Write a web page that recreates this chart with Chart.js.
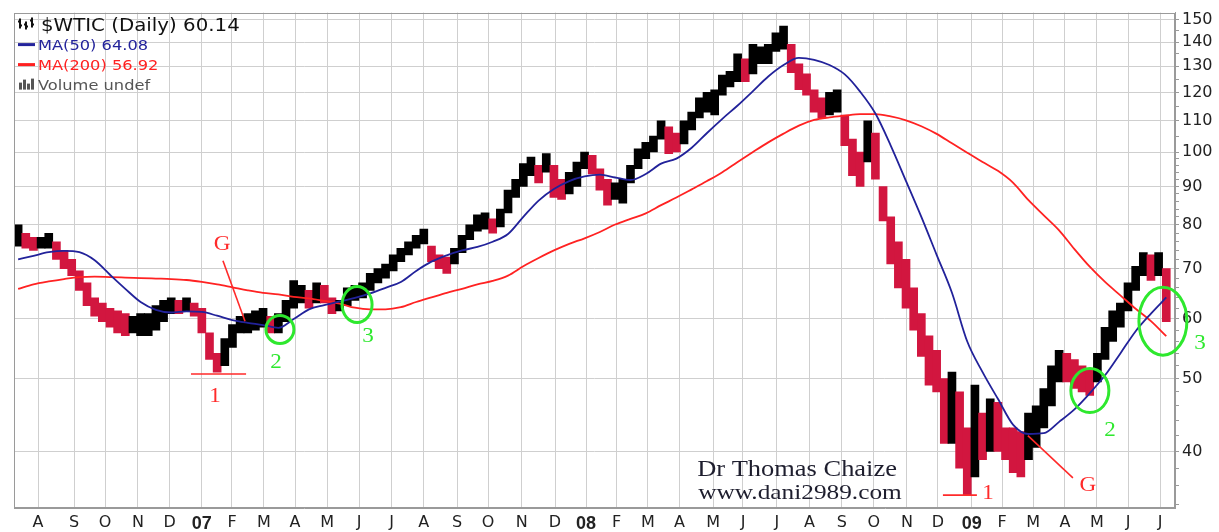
<!DOCTYPE html>
<html>
<head>
<meta charset="utf-8">
<script src="https://cdn.jsdelivr.net/npm/chart.js"></script>
<style>
  html, body { margin: 0; padding: 0; background: #fff; }
</style>
</head>
<body>
<canvas id="chart" width="1219" height="532"></canvas>
<script>
// x unit = trading days counted from 1 Aug 2006
const firstWeekDay = -13;
const weekStep = 5;

// weekly high / low of $WTIC
const weekHigh = [
  80, 78, 77, 77, 78, 76, 74, 72, 69.5, 67,
  64, 63, 62, 61.5, 61, 60.5, 61, 61, 62.5, 63.5,
  64, 63.5, 64, 63, 62, 57.5, 54, 56.5, 59, 60.5,
  61, 61.5, 62, 60.5, 61, 63.5, 67.5, 66.5, 65.5, 67,
  66.5, 64, 63.5, 66, 66.5, 67, 69, 70, 71, 73,
  74.5, 76, 77.5, 79, 75, 73, 72.5, 74.5, 77.5, 80,
  82.5, 83, 81.5, 84, 89, 92, 96.5, 98.5, 96, 99.5,
  96, 92, 94, 97, 100, 99, 95, 92, 91, 92,
  96, 101, 103, 105, 110, 108, 106, 110, 113, 118,
  120, 121, 126.5, 128, 135, 133, 139, 138, 139, 144,
  147, 139, 131, 127, 121, 118, 120, 121, 112, 104,
  100, 110, 106, 90, 82, 76, 72, 66, 61, 57,
  54.5, 50, 51, 48, 43, 49, 45, 47, 46.5, 43,
  43, 42.5, 45, 46, 48.5, 52, 54.5, 54, 53, 52,
  51.5, 54, 58.5, 61.5, 63, 67, 70.5, 73.5, 73, 73.5,
  70
];
const weekLow = [
  75, 74.5, 74, 74.5, 74.5, 72, 70, 68.5, 65.5, 62.5,
  60.5, 59.5, 58.5, 57.5, 57, 57.5, 57, 57, 58, 59.5,
  61, 61, 61.5, 60.5, 57.5, 53, 51, 52, 55, 57.5,
  57.5, 58, 58.5, 57.5, 57.5, 59.5, 62, 63, 62, 63,
  63, 61, 61.5, 62.5, 63.5, 64, 65.5, 67, 68, 69.5,
  71.5, 73, 74.5, 75.5, 71.5, 70, 69, 71, 73.5, 76.5,
  78.5, 79, 78, 79.5, 83, 87, 90, 93, 91, 94,
  87, 86.5, 88, 90, 95, 93.5, 89, 85, 86.5, 85.5,
  91, 95, 98, 100, 104, 99.5, 100, 102.5, 107, 111,
  113, 112, 119, 122, 124, 124, 127, 131, 131, 136,
  137, 127.5, 121, 119, 113, 111, 112, 113, 102, 93,
  90, 97, 92, 81, 71, 66, 62, 58, 53.5, 49,
  48, 41, 41, 38, 35, 37, 39, 40, 40, 39,
  37.5, 37, 39, 40.5, 43, 46, 49.5, 49.5, 48.5, 48,
  47.5, 49.5, 53, 56, 58.5, 61.5, 65.5, 68.5, 67.5, 68.5,
  59.5
];
const lastClose = 60.14;

// moving averages, one reading every two weeks
const maStep = 10;
const ma50 = [
  72.0, 72.8, 73.6, 73.9, 73.6, 71.8, 68.7, 65.8, 63.2, 61.7,
  61.2, 61.4, 61.3, 60.6, 59.8, 59.3, 58.9, 58.4, 60.0, 61.8,
  62.6, 63.3, 64.0, 64.9, 66.0, 67.2, 69.5, 71.5, 72.9, 74.0,
  74.8, 76.0, 77.8, 82.0, 86.2, 89.3, 91.5, 92.8, 93.3, 92.5,
  91.8, 93.5, 96.5, 98.0, 101.3, 106.0, 110.7, 115.3, 120.5, 126.0,
  130.5, 133.4, 132.6, 130.5, 126.8, 120.3, 112.5, 102.0, 91.5, 82.0,
  73.0, 65.0, 56.0, 51.0, 47.0, 43.4, 42.2, 42.3, 43.8, 45.5,
  47.8, 50.5, 54.0, 57.8, 61.0, 64.08
];
const ma200 = [
  65.8, 66.7, 67.3, 67.8, 68.2, 68.3, 68.2, 68.1, 68.0, 67.9,
  67.8, 67.6, 67.2, 66.7, 66.1, 65.5, 65.0, 64.7, 64.2, 63.9,
  63.4, 62.9, 62.1, 61.8, 61.8, 62.2, 63.2, 64.1, 65.0, 65.8,
  66.7, 67.4, 68.5, 70.5, 72.3, 74.0, 75.5, 76.8, 78.3, 80.1,
  81.5, 82.9, 85.0, 87.0, 89.2, 91.5, 94.0, 97.0, 100.0, 103.0,
  105.8, 108.4, 110.3, 111.2, 111.8, 112.3, 112.3, 111.5, 110.2, 108.2,
  105.7, 102.7, 99.8, 97.0, 94.4, 91.0, 86.3, 82.4, 78.7, 74.3,
  70.4, 67.2, 64.5, 61.9, 59.6, 56.92
];

// month starts on the time axis
const monthDays = [0, 23.5, 43.8, 65.3, 86, 107, 126.7, 147.6, 167.9, 188.8, 209.7, 231,
  252, 273.7, 294, 316, 337.7, 358, 378, 398.4, 419, 441, 460.5, 482.7,
  504, 525, 546, 567.6, 587.8, 610, 629.7, 650, 670.8, 691.7, 712, 733];
const monthLabels = ['A','S','O','N','D','07','F','M','A','M','J','J',
  'A','S','O','N','D','08','F','M','A','M','J','J',
  'A','S','O','N','D','09','F','M','A','M','J','J'];
const yearLabels = ['07', '08', '09'];

const majorPrices = [40, 50, 60, 70, 80, 90, 100, 110, 120, 130, 140, 150];
const minorPrices = [34, 36, 38, 42, 44, 46, 48, 52, 54, 56, 58, 62, 64, 66, 68, 72, 74, 76, 78,
  82, 84, 86, 88, 92, 94, 96, 98, 105, 115, 125, 135, 145];

// hand annotations, in (trading day, price)
const RED = '#ff2a2a', GREEN = '#2ee82e';
const notes = {
  lines: [
    [[120.8, 71.7], [135.2, 59.6]],
    [[99.9, 50.7], [135.9, 50.7]],
    [[646.6, 42.0], [676, 36.9]],
    [[591.1, 35.0], [613.3, 35.0]]
  ],
  circles: [
    { at: [158, 58.1], rx: 14, ry: 14 },
    { at: [208.4, 62.7], rx: 15, ry: 18 },
    { at: [687.1, 48.2], rx: 19, ry: 22 },
    { at: [734.8, 59.6], rx: 24, ry: 34 }
  ],
  labels: [
    { text: 'G', at: [120.2, 75.3], color: RED },
    { text: '1', at: [115.6, 47.4], color: RED },
    { text: '2', at: [155.5, 52.6], color: GREEN },
    { text: '3', at: [215.5, 56.9], color: GREEN },
    { text: 'G', at: [685.8, 36.0], color: RED },
    { text: '1', at: [620.5, 35.2], color: RED },
    { text: '2', at: [700.2, 42.6], color: GREEN },
    { text: '3', at: [759, 55.7], color: GREEN }
  ],
  credit: [
    { text: 'Dr Thomas Chaize', at: [495.8, 37.8], size: 23 },
    { text: 'www.dani2989.com', at: [497.7, 35.2], size: 22 }
  ]
};

const mids = weekHigh.map((h, i) => (h + weekLow[i]) / 2);
const barColors = mids.map((m, i) => (i > 0 && m < mids[i - 1]) ? '#d2163f' : '#000000');

const priceBars = weekHigh.map((h, i) => ({ x: firstWeekDay + i * weekStep, y: [weekLow[i], h] }));
const ma50Pts = ma50.map((v, k) => ({ x: firstWeekDay + k * maStep, y: v }));
const ma200Pts = ma200.map((v, k) => ({ x: firstWeekDay + k * maStep, y: v }));
const allPrices = majorPrices.concat(minorPrices).sort((a, b) => a - b);

function stretchText(ctx, text, x, y, sx) {
  ctx.save();
  ctx.translate(x, y);
  ctx.scale(sx, 1);
  ctx.fillText(text, 0, 0);
  ctx.restore();
}

const framePlugin = {
  id: 'frame',
  afterDraw(chart) {
    const { ctx, chartArea: a } = chart;
    ctx.save();
    ctx.strokeStyle = '#9a9a9a';
    ctx.lineWidth = 1;
    ctx.strokeRect(Math.round(a.left) + 0.5, Math.round(a.top) + 0.5,
      Math.round(a.right - a.left) - 1, Math.round(a.bottom - a.top) - 1);
    ctx.restore();
  }
};

const notesPlugin = {
  id: 'notes',
  afterDraw(chart) {
    const ctx = chart.ctx, xs = chart.scales.x, ys = chart.scales.y;
    const P = p => [xs.getPixelForValue(p[0]), ys.getPixelForValue(p[1])];
    ctx.save();
    ctx.strokeStyle = RED;
    ctx.lineWidth = 1.6;
    notes.lines.forEach(([p, q]) => {
      const a = P(p), b = P(q);
      ctx.beginPath();
      ctx.moveTo(a[0], a[1]);
      ctx.lineTo(b[0], b[1]);
      ctx.stroke();
    });
    ctx.strokeStyle = GREEN;
    ctx.lineWidth = 3;
    notes.circles.forEach(c => {
      const a = P(c.at);
      ctx.beginPath();
      ctx.ellipse(a[0], a[1], c.rx, c.ry, 0, 0, Math.PI * 2);
      ctx.stroke();
    });
    ctx.textAlign = 'center';
    ctx.textBaseline = 'middle';
    ctx.font = '21px "Liberation Serif", serif';
    notes.labels.forEach(l => {
      const a = P(l.at);
      ctx.fillStyle = l.color;
      stretchText(ctx, l.text, a[0], a[1], 1.1);
    });
    ctx.fillStyle = '#1e1e2e';
    notes.credit.forEach(c => {
      const a = P(c.at);
      ctx.font = c.size + 'px "Liberation Serif", serif';
      stretchText(ctx, c.text, a[0], a[1], 1.15);
    });
    ctx.restore();
  }
};

const legendPlugin = {
  id: 'stockLegend',
  afterDraw(chart) {
    const ctx = chart.ctx, a = chart.chartArea;
    const x0 = a.left + 4;
    ctx.save();
    ctx.textAlign = 'left';
    ctx.textBaseline = 'alphabetic';

    // price bar icon
    ctx.strokeStyle = '#111';
    ctx.lineWidth = 2;
    [[x0 + 2, 6, 16], [x0 + 8, 9, 17], [x0 + 14, 5, 15]].forEach(([x, t, b]) => {
      ctx.beginPath();
      ctx.moveTo(x, a.top + t); ctx.lineTo(x, a.top + b);
      ctx.moveTo(x - 2, a.top + t + 3); ctx.lineTo(x, a.top + t + 3);
      ctx.moveTo(x, a.top + b - 3); ctx.lineTo(x + 2, a.top + b - 3);
      ctx.stroke();
    });
    ctx.fillStyle = '#111';
    ctx.font = '18px "DejaVu Sans"';
    stretchText(ctx, '$WTIC (Daily) ' + lastClose.toFixed(2), x0 + 23, a.top + 18, 1.1);

    const rows = [
      { text: 'MA(50) ' + ma50[ma50.length - 1].toFixed(2), color: '#23239b', y: a.top + 37 },
      { text: 'MA(200) ' + ma200[ma200.length - 1].toFixed(2), color: '#ff2020', y: a.top + 57 }
    ];
    ctx.font = '14.5px "DejaVu Sans"';
    rows.forEach(r => {
      ctx.strokeStyle = r.color;
      ctx.lineWidth = 3;
      ctx.beginPath();
      ctx.moveTo(x0, r.y - 5); ctx.lineTo(x0 + 17, r.y - 5);
      ctx.stroke();
      ctx.fillStyle = r.color;
      stretchText(ctx, r.text, x0 + 20, r.y, 1.12);
    });

    // volume icon
    const vy = a.top + 77;
    ctx.fillStyle = '#555';
    [[0, 7], [4, 10], [8, 6], [12, 11]].forEach(([dx, h]) => ctx.fillRect(x0 + dx + 1, vy - h, 3, h));
    stretchText(ctx, 'Volume undef', x0 + 20, vy, 1.12);
    ctx.restore();
  }
};

new Chart(document.getElementById('chart'), {
  type: 'bar',
  data: {
    datasets: [
      {
        type: 'line', label: 'MA(50)', data: ma50Pts, borderColor: '#22229a', borderWidth: 1.8,
        pointRadius: 0, cubicInterpolationMode: 'monotone', order: 0
      },
      {
        type: 'line', label: 'MA(200)', data: ma200Pts, borderColor: '#ff2222', borderWidth: 1.8,
        pointRadius: 0, cubicInterpolationMode: 'monotone', order: 1
      },
      {
        type: 'bar', label: '$WTIC', data: priceBars, backgroundColor: barColors,
        barThickness: 8, borderWidth: 0, order: 2
      }
    ]
  },
  options: {
    responsive: false,
    animation: false,
    devicePixelRatio: 1,
    layout: { padding: { left: 14, top: 9, right: 0, bottom: 0 } },
    plugins: { legend: { display: false }, tooltip: { enabled: false } },
    scales: {
      x: {
        type: 'linear',
        min: -15.7,
        max: 742.7,
        offset: false,
        afterBuildTicks: s => { s.ticks = monthDays.map(v => ({ value: v })); },
        afterFit: s => { s.height = 24; },
        grid: { color: '#cfcfcf', lineWidth: 1, drawTicks: false, offset: false },
        border: { color: '#9a9a9a' },
        ticks: {
          autoSkip: false,
          maxRotation: 0,
          padding: 5,
          color: '#222',
          font: c => yearLabels.includes(monthLabels[c.index])
            ? { family: '"Liberation Sans Narrow", "Liberation Sans"', size: 18, weight: 'bold' }
            : { family: '"DejaVu Sans"', size: 16 },
          callback: (v, i) => monthLabels[i]
        }
      },
      y: {
        type: 'logarithmic',
        position: 'right',
        min: 33.65,
        max: 153.2,
        afterBuildTicks: s => { s.ticks = allPrices.map(v => ({ value: v })); },
        afterFit: s => { s.width = 44; },
        grid: {
          color: c => majorPrices.includes(c.tick.value) ? '#cfcfcf' : 'rgba(0,0,0,0)',
          tickColor: '#9a9a9a',
          tickLength: 4,
          lineWidth: 1
        },
        border: { color: '#9a9a9a' },
        ticks: {
          autoSkip: false,
          padding: 3,
          color: '#222',
          font: { family: '"DejaVu Sans"', size: 16 },
          callback: v => majorPrices.includes(v) ? String(v) : ''
        }
      }
    }
  },
  plugins: [framePlugin, legendPlugin, notesPlugin]
});
</script>
</body>
</html>
